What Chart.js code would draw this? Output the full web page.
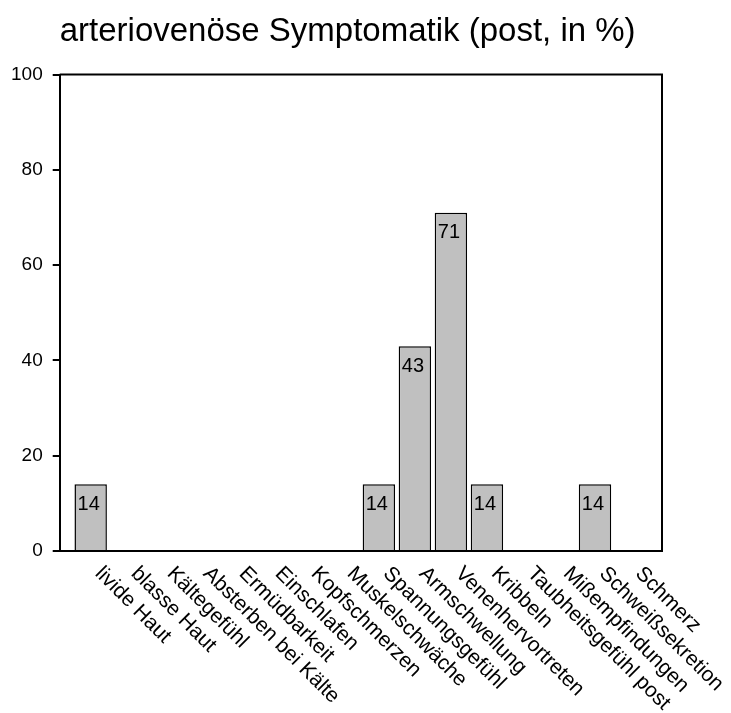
<!DOCTYPE html>
<html>
<head>
<meta charset="utf-8">
<script src="https://cdn.jsdelivr.net/npm/chart.js@4/dist/chart.umd.min.js"></script>
<style>
  html, body { margin: 0; padding: 0; background: #ffffff; }
  #wrap { width: 731px; height: 713px; position: relative; }
</style>
</head>
<body>
<div id="wrap"><canvas id="c"></canvas></div>
<script>
const titleText = 'arteriovenöse Symptomatik (post, in %)';
const categories = ['livide Haut', 'blasse Haut', 'Kältegefühl', 'Absterben bei Kälte', 'Ermüdbarkeit', 'Einschlafen', 'Kopfschmerzen', 'Muskelschwäche', 'Spannungsgefühl', 'Armschwellung', 'Venenhervortreten', 'Kribbeln', 'Taubheitsgefühl post', 'Mißempfindungen', 'Schweißsekretion', 'Schmerz'];
const values = [14, 0, 0, 0, 0, 0, 0, 0, 14, 43, 71, 14, 0, 0, 14, 0];
const yTicks = [0, 20, 40, 60, 80, 100];

const FONT = '"Liberation Sans", Arial, Helvetica, sans-serif';

const framePlugin = {
  id: 'frame',
  afterDatasetsDraw(chart) {
    const { ctx, chartArea: a } = chart;
    ctx.save();
    ctx.strokeStyle = '#000';
    ctx.lineWidth = 2;
    ctx.beginPath();
    ctx.moveTo(a.left, a.top);
    ctx.lineTo(a.right, a.top);
    ctx.lineTo(a.right, a.bottom);
    ctx.stroke();
    ctx.restore();
  }
};

const valueLabelPlugin = {
  id: 'valueLabels',
  afterDatasetsDraw(chart) {
    const { ctx } = chart;
    const meta = chart.getDatasetMeta(0);
    ctx.save();
    ctx.fillStyle = '#000';
    ctx.font = '20px ' + FONT;
    ctx.textAlign = 'center';
    ctx.textBaseline = 'top';
    meta.data.forEach((bar, i) => {
      const v = values[i];
      if (!v) return;
      ctx.fillText(String(v), bar.x - 2, bar.y + 10);
    });
    ctx.restore();
  }
};

const catLabelPlugin = {
  id: 'catLabels',
  afterDraw(chart) {
    const { ctx } = chart;
    const xs = chart.scales.x;
    const y0 = chart.chartArea.bottom;
    ctx.save();
    ctx.fillStyle = '#000';
    ctx.font = '21px ' + FONT;
    ctx.textAlign = 'left';
    ctx.textBaseline = 'top';
    categories.forEach((lab, i) => {
      const x = xs.getPixelForValue(i);
      ctx.save();
      ctx.translate(x + 15, y0 + 12);
      ctx.rotate(Math.PI / 4);
      ctx.fillText(lab, 0, 0);
      ctx.restore();
    });
    ctx.restore();
  }
};

new Chart(document.getElementById('c'), {
  type: 'bar',
  data: {
    datasets: [{
      data: values.map((v, i) => ({ x: i, y: v })),
      backgroundColor: '#c0c0c0',
      borderColor: '#000000',
      borderWidth: 1.5,
      barPercentage: 0.9,
      categoryPercentage: 1.0
    }]
  },
  options: {
    responsive: true,
    maintainAspectRatio: false,
    animation: false,
    layout: { padding: { left: 1, right: 69, top: 0, bottom: 162 } },
    plugins: {
      legend: { display: false },
      tooltip: { enabled: false },
      title: {
        display: true,
        text: titleText,
        align: 'start',
        fullSize: false,
        color: '#000',
        font: { family: FONT, size: 33, weight: 'normal' },
        padding: { top: 12, bottom: 23 }
      }
    },
    scales: {
      x: {
        type: 'linear',
        min: -0.86,
        max: 15.86,
        offset: false,
        afterBuildTicks: (s) => { s.ticks = categories.map((_, i) => ({ value: i })); },
        grid: { display: false, drawTicks: false },
        border: { display: true, color: '#000', width: 2 },
        ticks: { display: false }
      },
      y: {
        min: 0,
        max: 100,
        afterBuildTicks: (s) => { s.ticks = yTicks.map(v => ({ value: v })); },
        grid: { display: true, drawOnChartArea: false, drawTicks: true, tickLength: 7, color: '#000', lineWidth: 2 },
        border: { display: true, color: '#000', width: 2 },
        ticks: { color: '#000', font: { family: FONT, size: 19 }, padding: 10 }
      }
    }
  },
  plugins: [framePlugin, valueLabelPlugin, catLabelPlugin]
});
</script>
</body>
</html>
